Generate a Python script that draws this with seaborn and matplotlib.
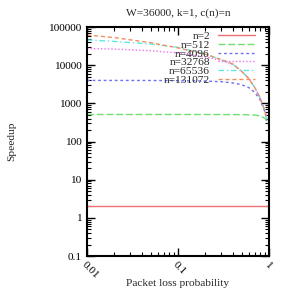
import numpy as np
import pandas as pd
import matplotlib
matplotlib.use("Agg")
import matplotlib.pyplot as plt
import matplotlib.ticker as mticker
import seaborn as sns

# values
p_full = [0.01, 0.02, 0.05, 0.1, 0.2, 0.3, 0.4, 0.5, 0.6, 0.7, 0.8, 0.9, 0.95]
p_512 = [0.01, 0.02, 0.05, 0.1, 0.2, 0.3, 0.4, 0.5, 0.6, 0.7, 0.8, 0.9, 0.95, 0.98]

speedup_2 = [2, 2, 2, 2, 2, 2, 2, 2, 2, 2, 2, 2, 2]
speedup_512 = [512, 512, 512, 512, 511, 510, 509, 507, 503, 495, 470, 410, 345, 285]
speedup_4096 = [4000, 4000, 3980, 3950, 3850, 3700, 3450, 3100, 2600, 1950, 1250, 620, 360]
speedup_32768 = [27500, 26500, 24000, 21000, 16500, 13500, 10500, 7000, 4500, 2600, 1400, 650, 380]
speedup_65536 = [46000, 42000, 36000, 29500, 19500, 14000, 10800, 7000, 4500, 2600, 1400, 650, 380]
speedup_131072 = [62000, 53000, 39000, 28500, 19500, 14000, 10800, 7000, 4500, 2600, 1400, 650, 380]

labels = ["n=2", "n=512", "n=4096", "n=32768", "n=65536", "n=131072"]
colors = ["#f07070", "#70e070", "#7070f0", "#f070f0", "#60e8e8", "#f09060"]
dash_styles = ["", (5, 2), (2, 2), (1, 1.5), (4, 2, 1, 2), (3, 2)]

series = [
    (labels[0], p_full, speedup_2),
    (labels[1], p_512, speedup_512),
    (labels[2], p_full, speedup_4096),
    (labels[3], p_full, speedup_32768),
    (labels[4], p_full, speedup_65536),
    (labels[5], p_full, speedup_131072),
]
frames = [pd.DataFrame({"p": x, "speedup": y, "n": name}) for name, x, y in series]
df = pd.concat(frames, ignore_index=True)

sns.set_style("ticks")
plt.rcParams["font.family"] = ["Liberation Serif", "DejaVu Serif"]
plt.rcParams["font.size"] = 8.2

fig = plt.figure(figsize=(2.91, 2.91), dpi=100)
ax = fig.add_axes([0.299, 0.120, 0.625, 0.787])

sns.lineplot(data=df, x="p", y="speedup", hue="n", style="n",
             hue_order=labels, style_order=labels,
             palette=dict(zip(labels, colors)),
             dashes=dict(zip(labels, dash_styles)),
             linewidth=1.0, ax=ax, sort=True)

ax.set_xscale("log")
ax.set_yscale("log")
ax.set_xlim(0.01, 1)
ax.set_ylim(0.1, 100000)

ax.set_yticks([0.1, 1, 10, 100, 1000, 10000, 100000])
ax.set_yticklabels(["0.1", "1", "10", "100", "1000", "10000", "100000"])
ax.yaxis.set_minor_locator(mticker.LogLocator(base=10, subs=np.arange(2, 10), numticks=20))
ax.yaxis.set_minor_formatter(mticker.NullFormatter())
ax.set_xticks([0.01, 0.1, 1])
ax.set_xticklabels(["0.01", "0.1", "1"], rotation=-45, ha="left", va="top",
                   rotation_mode="anchor")
ax.xaxis.set_minor_locator(mticker.LogLocator(base=10, subs=np.arange(2, 10), numticks=20))
ax.xaxis.set_minor_formatter(mticker.NullFormatter())

ax.tick_params(which="both", direction="in", top=True, right=True,
               colors="black", labelsize=8.2)
ax.tick_params(which="major", length=6, width=1.0, pad=4)
ax.tick_params(axis="x", which="major", pad=3)
ax.tick_params(which="minor", length=3, width=0.8)
for spine in ax.spines.values():
    spine.set_visible(True)
    spine.set_linewidth(1.5)
    spine.set_color("black")

ax.set_title("W=36000, k=1, c(n)=n", fontsize=8.2, pad=8)
ax.set_xlabel("Packet loss probability", fontsize=8.2, labelpad=-1)
ax.set_ylabel("Speedup", fontsize=8.2, labelpad=23)

handles, hlabels = ax.get_legend_handles_labels()
ax.legend(handles, hlabels, markerfirst=False, frameon=False,
          loc="upper right", bbox_to_anchor=(0.97, 1.018),
          handlelength=3.3, handletextpad=0.7, labelspacing=-0.1,
          borderpad=0.2, fontsize=8.2)

fig.savefig("out.png", dpi=100)
